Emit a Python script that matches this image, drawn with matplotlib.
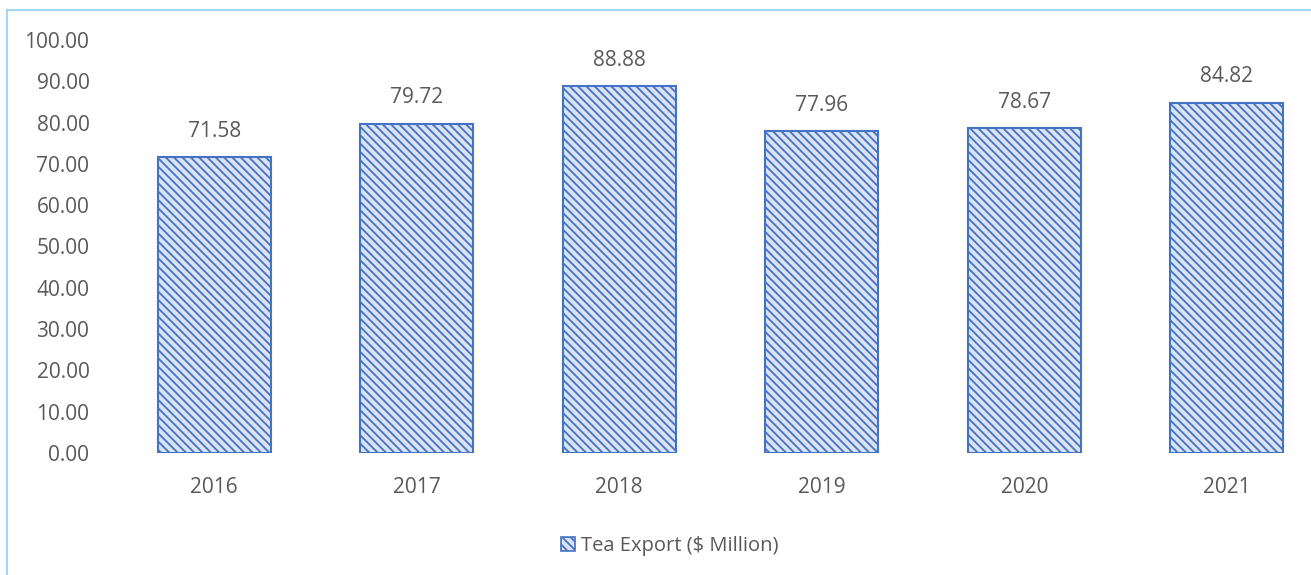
import matplotlib.pyplot as plt
from matplotlib.lines import Line2D
from matplotlib.patches import Patch

plt.rcParams['font.family'] = ['Open Sans', 'DejaVu Sans']
plt.rcParams['hatch.color'] = '#4472C4'
plt.rcParams['hatch.linewidth'] = 1.3

years = ['2016', '2017', '2018', '2019', '2020', '2021']
tea_export = [71.58, 79.72, 88.88, 77.96, 78.67, 84.82]
y_ticks = [0, 10, 20, 30, 40, 50, 60, 70, 80, 90, 100]

text_color = '#595959'
bar_edge = '#4472C4'
bar_fill = '#DAE3F3'
hatch = '\\\\\\\\'

fig = plt.figure(figsize=(13.11, 5.75), dpi=100)
W, H = 1311, 575
# plot area in pixel terms (chart is cut on the right side)
left, right, top, bottom = 113, 1328, 40, 453
ax = fig.add_axes([left / W, 1 - bottom / H, (right - left) / W, (bottom - top) / H])

x = range(len(years))
ax.bar(x, tea_export, width=0.56, color=bar_fill, edgecolor=bar_edge,
       linewidth=1.5, hatch=hatch)

for xi, v in zip(x, tea_export):
    ax.annotate(f'{v:.2f}', (xi, v), xytext=(0, 11), textcoords='offset points',
                ha='center', va='bottom', fontsize=15, color=text_color)

ax.set_xlim(-0.5, len(years) - 0.5)
ax.set_ylim(0, 100)
ax.set_yticks(y_ticks)
ax.set_yticklabels([f'{t:.2f}' for t in y_ticks])
ax.set_xticks(list(x))
ax.set_xticklabels(years)
ax.tick_params(axis='both', length=0, labelsize=15, labelcolor=text_color)
ax.tick_params(axis='x', pad=17)
ax.tick_params(axis='y', pad=17)
for s in ax.spines.values():
    s.set_visible(False)

legend_handle = Patch(facecolor=bar_fill, edgecolor=bar_edge, hatch=hatch, linewidth=1.2)
fig.legend([legend_handle], ['Tea Export ($ Million)'], loc='center',
           bbox_to_anchor=(670 / W, 1 - 546 / H), frameon=False, fontsize=14.5,
           labelcolor=text_color, handlelength=0.7, handleheight=0.7,
           handletextpad=0.3)

# outer chart frame (top and left edges visible)
frame_color = '#8DD3EE'
fig.add_artist(Line2D([7 / W, 7 / W], [0, 1 - 10 / H], color=frame_color, lw=1.2))
fig.add_artist(Line2D([7 / W, 1], [1 - 10 / H, 1 - 10 / H], color=frame_color, lw=1.2))

fig.savefig('out.png', dpi=100)
